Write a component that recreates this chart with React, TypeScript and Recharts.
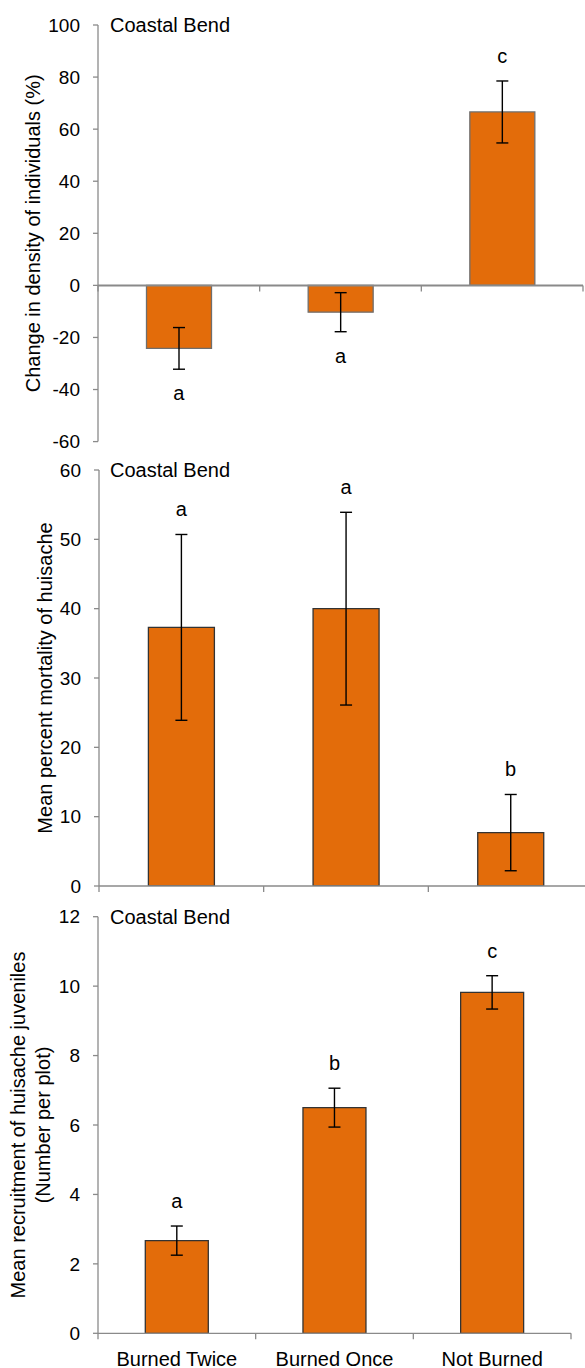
import React from 'react';
import {
  ComposedChart,
  Bar,
  Line,
  XAxis,
  YAxis,
  ErrorBar,
  LabelList,
  ReferenceLine,
} from 'recharts';

// ---------- data ----------
const categories = ['Burned Twice', 'Burned Once', 'Not Burned'];

const densityChange = [-24.2, -10.3, 66.6];
const densityErr = [8.0, 7.5, 11.9];
const densityLetters = ['a', 'a', 'c'];
const densityTicks = [-60, -40, -20, 0, 20, 40, 60, 80, 100];

const mortality = [37.3, 40.0, 7.7];
const mortalityErr = [13.4, 13.9, 5.5];
const mortalityLetters = ['a', 'a', 'b'];
const mortalityTicks = [0, 10, 20, 30, 40, 50, 60];

const recruitment = [2.67, 6.5, 9.82];
const recruitmentErr = [0.42, 0.56, 0.48];
const recruitmentLetters = ['a', 'b', 'c'];
const recruitmentTicks = [0, 2, 4, 6, 8, 10, 12];

const regionTitle = 'Coastal Bend';

// ---------- styles ----------
const FONT = '"Liberation Sans", Arial, sans-serif';
const FS_TICK = 19;
const FS = 20;
const AXIS_COLOR = '#8a8a8a';
const BAR_FILL = '#E36C0A';

type Row = { name: string; value: number; err: number; letter: string; anchor: number };

const buildRows = (vals: number[], errs: number[], letters: string[]): Row[] =>
  categories.map((name, i) => ({
    name,
    value: vals[i],
    err: errs[i],
    letter: letters[i],
    anchor: vals[i] >= 0 ? vals[i] + errs[i] : vals[i] - errs[i],
  }));

type PanelProps = {
  top: number;
  width: number;
  height: number;
  margin: { top: number; right: number; left: number; bottom: number };
  rows: Row[];
  domain: [number, number];
  ticks: number[];
  yTitle: string[];
  yTitleX: number[];
  showCategories: boolean;
  xAxisHeight: number;
  barStroke: string;
  axisWidth: number;
};

const Panel = (p: PanelProps) => {
  const plotTop = p.margin.top;
  const plotBottom = p.height - p.margin.bottom - (p.showCategories ? p.xAxisHeight : 0);
  const plotCenterY = (plotTop + plotBottom) / 2;
  const n = p.rows.length;

  const axisShape = (sp: any) => {
    const { x1, y1, x2 } = sp;
    const marks = [];
    for (let i = 0; i <= n; i++) {
      const x = x1 + ((x2 - x1) * i) / n;
      marks.push(
        <line key={i} x1={x} y1={y1} x2={x} y2={y1 + 6} stroke={AXIS_COLOR} strokeWidth={1.3} />
      );
    }
    return (
      <g>
        <line x1={x1} y1={y1} x2={x2} y2={y1} stroke={AXIS_COLOR} strokeWidth={p.axisWidth} />
        {marks}
      </g>
    );
  };

  const renderLetter = (lp: any) => {
    const vb = lp.viewBox || {};
    const x = vb.x ?? lp.x;
    const y = vb.y ?? lp.y;
    const idx = lp.index ?? 0;
    const row = p.rows[idx];
    if (x == null || y == null || !row) return null;
    const dy = row.value >= 0 ? -25 : 24;
    return (
      <text
        x={x}
        y={y + dy}
        textAnchor="middle"
        dominantBaseline="central"
        fontFamily={FONT}
        fontSize={FS}
        fill="#000"
      >
        {row.letter}
      </text>
    );
  };

  const renderTitles = () => (
    <g>
      {p.yTitle.map((t, i) => (
        <text
          key={i}
          x={p.yTitleX[i]}
          y={plotCenterY}
          transform={`rotate(-90, ${p.yTitleX[i]}, ${plotCenterY})`}
          textAnchor="middle"
          dominantBaseline="central"
          fontFamily={FONT}
          fontSize={FS}
          fill="#000"
        >
          {t}
        </text>
      ))}
      <text
        x={110}
        y={plotTop}
        dominantBaseline="central"
        fontFamily={FONT}
        fontSize={FS}
        fill="#000"
      >
        {regionTitle}
      </text>
    </g>
  );

  return (
    <div style={{ position: 'absolute', left: 0, top: p.top, width: p.width, height: p.height }}>
      <ComposedChart
        width={p.width}
        height={p.height}
        data={p.rows}
        margin={p.margin}
        barCategoryGap="30%"
      >
        <XAxis
          dataKey="name"
          hide={!p.showCategories}
          height={p.xAxisHeight}
          axisLine={false}
          tickLine={false}
          tickSize={6}
          tickMargin={12}
          interval={0}
          tick={{ fill: '#000', fontSize: FS, fontFamily: FONT }}
        />
        <YAxis
          width={98}
          domain={p.domain}
          ticks={p.ticks}
          interval={0}
          allowDataOverflow
          axisLine={{ stroke: AXIS_COLOR, strokeWidth: 1.3 }}
          tickLine={{ stroke: AXIS_COLOR, strokeWidth: 1.3 }}
          tickSize={5}
          tickMargin={13}
          tick={{ fill: '#000', fontSize: FS_TICK, fontFamily: FONT }}
          label={{ content: renderTitles }}
        />
        <Bar
          dataKey="value"
          fill={BAR_FILL}
          stroke={p.barStroke}
          strokeWidth={1.3}
          isAnimationActive={false}
        >
          <ErrorBar dataKey="err" width={6} stroke="#000" strokeWidth={1.4} direction="y" />
        </Bar>
        <Line
          dataKey="anchor"
          stroke="none"
          dot={false}
          activeDot={false}
          legendType="none"
          isAnimationActive={false}
        >
          <LabelList dataKey="letter" content={renderLetter} />
        </Line>
        <ReferenceLine y={0} shape={axisShape} ifOverflow="visible" />
      </ComposedChart>
    </div>
  );
};

export default function App() {
  const densityRows = buildRows(densityChange, densityErr, densityLetters);
  const mortalityRows = buildRows(mortality, mortalityErr, mortalityLetters);
  const recruitmentRows = buildRows(recruitment, recruitmentErr, recruitmentLetters);

  return (
    <div
      style={{
        position: 'absolute',
        left: 0,
        top: 0,
        width: 585,
        height: 1368,
        overflow: 'hidden',
        background: '#fff',
      }}
    >
      <Panel
        top={0}
        width={585}
        height={462}
        margin={{ top: 25, right: 2, left: 0, bottom: 20.4 }}
        rows={densityRows}
        domain={[-60, 100]}
        ticks={densityTicks}
        yTitle={['Change in density of individuals (%)']}
        yTitleX={[33]}
        showCategories={false}
        xAxisHeight={0}
        barStroke="#6e6e6e"
        axisWidth={2}
      />
      <Panel
        top={450}
        width={600}
        height={450}
        margin={{ top: 20, right: 7, left: 1, bottom: 14 }}
        rows={mortalityRows}
        domain={[0, 60]}
        ticks={mortalityTicks}
        yTitle={['Mean percent mortality of huisache']}
        yTitleX={[45]}
        showCategories={false}
        xAxisHeight={0}
        barStroke="#333333"
        axisWidth={1.3}
      />
      <Panel
        top={900}
        width={585}
        height={468}
        margin={{ top: 16.7, right: 14, left: 0, bottom: 0 }}
        rows={recruitmentRows}
        domain={[0, 12]}
        ticks={recruitmentTicks}
        yTitle={['Mean recruitment of huisache juveniles', '(Number per plot)']}
        yTitleX={[18, 43]}
        showCategories={true}
        xAxisHeight={34.7}
        barStroke="#333333"
        axisWidth={1.3}
      />
    </div>
  );
}
